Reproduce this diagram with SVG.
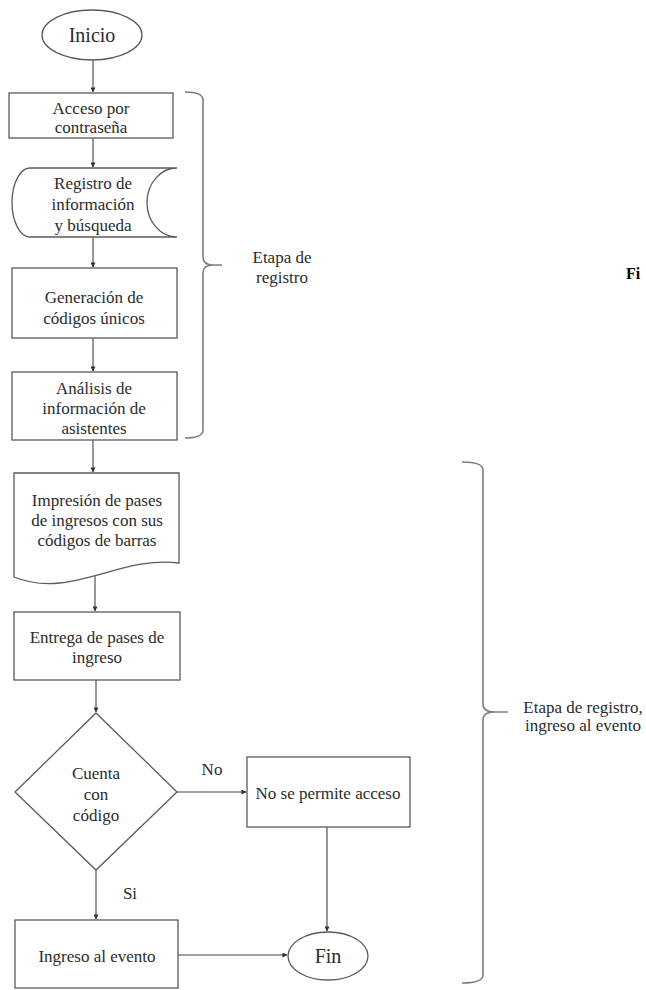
<svg xmlns="http://www.w3.org/2000/svg" width="646" height="990" viewBox="0 0 646 990">
<defs>
<marker id="ah" viewBox="0 0 6 6" refX="5.5" refY="3" markerWidth="5" markerHeight="5" orient="auto" markerUnits="userSpaceOnUse">
<path d="M0,0 L6,3 L0,6 z" fill="#333"/>
</marker>
<style>
.shape{fill:#fff;stroke:#5a5a5a;stroke-width:1.3}
.conn{fill:none;stroke:#444;stroke-width:1.1;marker-end:url(#ah)}
.brace{fill:none;stroke:#7d7d7d;stroke-width:1.6}
text{font-size:17px;fill:#2b2b2b;text-anchor:middle}
.big{font-size:20px}
.fi{font-weight:bold;font-size:16px;text-anchor:start;fill:#000}
</style>
</defs>
<rect width="646" height="990" fill="#fff"/>
<g font-family="'Liberation Serif', 'DejaVu Serif', serif">

<g id="connectors">
<path class="conn" d="M93,60 V92"/>
<path class="conn" d="M93,138 V167"/>
<path class="conn" d="M93,237 V267"/>
<path class="conn" d="M93,338 V371"/>
<path class="conn" d="M93,440 V472"/>
<path class="conn" d="M95,576 V611"/>
<path class="conn" d="M96,680 V712"/>
<path class="conn" d="M177,792 H246"/>
<path class="conn" d="M327,827 V931"/>
<path class="conn" d="M96,870 V919"/>
<path class="conn" d="M178,955 H287"/>
<text x="212" y="775">No</text>
<text x="130" y="899">Si</text>
</g>

<g id="inicio">
<ellipse class="shape" cx="92" cy="35" rx="50" ry="25"/>
<text class="big" x="92" y="42">Inicio</text>
</g>

<g id="acceso">
<rect class="shape" x="9" y="93" width="164" height="45"/>
<text x="91" y="114">Acceso por</text>
<text x="91" y="133">contraseña</text>
</g>

<g id="registro">
<path class="shape" d="M30,168 H177 A30,34.5 0 0 0 177,237 H30 A18,34.5 0 0 1 30,168 Z"/>
<text x="93" y="189">Registro de</text>
<text x="93" y="210">información</text>
<text x="93" y="231">y búsqueda</text>
</g>

<g id="generacion">
<rect class="shape" x="12" y="268" width="165" height="70"/>
<text x="94" y="303">Generación de</text>
<text x="94" y="324">códigos únicos</text>
</g>

<g id="analisis">
<rect class="shape" x="12" y="372" width="165" height="68"/>
<text x="94" y="394">Análisis de</text>
<text x="94" y="414">información de</text>
<text x="94" y="434">asistentes</text>
</g>

<g id="impresion">
<path class="shape" d="M14,473 H179 V563 C120,555 70,600 14,577 Z"/>
<text x="97" y="506">Impresión de pases</text>
<text x="97" y="526">de ingresos con sus</text>
<text x="97" y="546">códigos de barras</text>
</g>

<g id="entrega">
<rect class="shape" x="14" y="612" width="166" height="68"/>
<text x="97" y="643">Entrega de pases de</text>
<text x="97" y="663">ingreso</text>
</g>

<g id="decision">
<path class="shape" d="M96,713 L177,792 L96,870 L15,792 Z"/>
<text x="96" y="779">Cuenta</text>
<text x="96" y="800">con</text>
<text x="96" y="821">código</text>
</g>

<g id="nopermite">
<rect class="shape" x="247" y="757" width="163" height="70"/>
<text x="328" y="799">No se permite acceso</text>
</g>

<g id="ingreso">
<rect class="shape" x="15" y="920" width="163" height="68"/>
<text x="97" y="962">Ingreso al evento</text>
</g>

<g id="fin">
<ellipse class="shape" cx="328" cy="956" rx="40" ry="24"/>
<text class="big" x="328" y="963">Fin</text>
</g>

<g id="brace1">
<path class="brace" d="M185,92 Q203,92 203,100 V257 Q203,265 213,265 H222 M213,265 Q203,265 203,273 V430 Q203,438 185,438"/>
<text x="282" y="263">Etapa de</text>
<text x="282" y="283">registro</text>
</g>

<g id="brace2">
<path class="brace" d="M462,462 Q483,462 483,470 V704 Q483,712 494,712 H508 M494,712 Q483,712 483,720 V975 Q483,983 462,983"/>
<text x="583" y="713">Etapa de registro,</text>
<text x="583" y="731">ingreso al evento</text>
</g>

<text class="fi" x="626" y="279">Fi</text>
</g>
</svg>
